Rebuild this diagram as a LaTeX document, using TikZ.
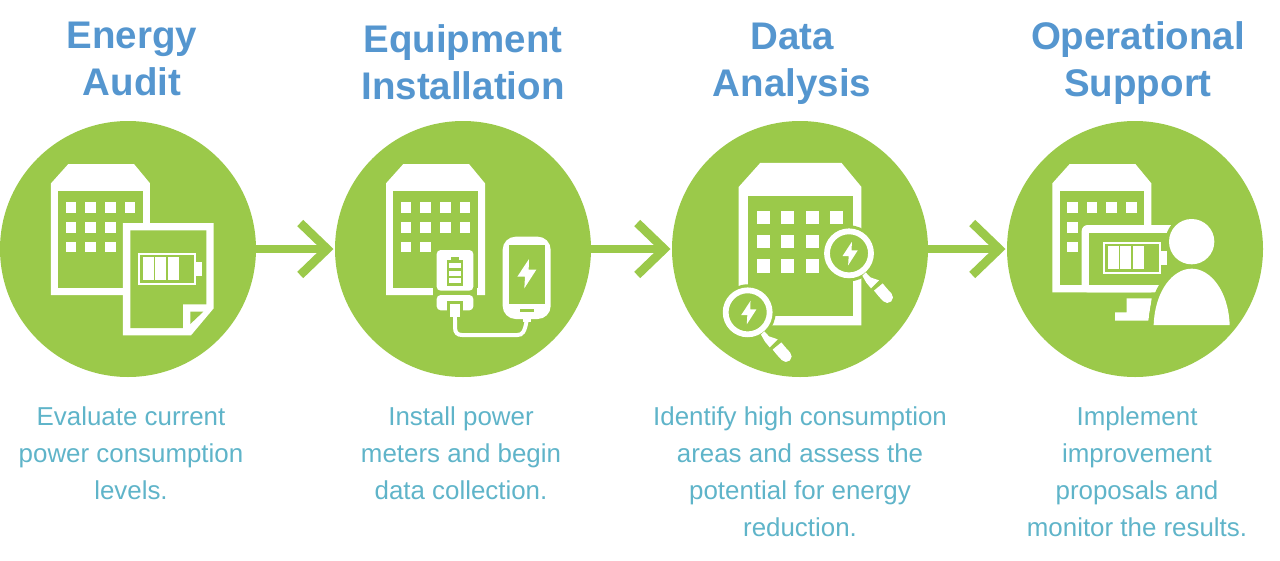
\documentclass[tikz,border=0pt]{standalone}
\usepackage{fontspec}
\setmainfont{Liberation Sans}
\usetikzlibrary{arrows.meta,positioning}
\definecolor{leaf}{HTML}{9BC94A}
\definecolor{headblue}{HTML}{5596CF}
\definecolor{bodyteal}{HTML}{5FB4C9}
\tikzset{
	stepcircle/.style={circle,fill=leaf,inner sep=0pt,outer sep=0pt,minimum size=256pt},
	flow/.style={-{Straight Barb[length=27pt,width=52pt]},leaf,line width=8.7pt,shorten >=1.5pt},
	title/.style={text=headblue,font=\bfseries\fontsize{38.5}{47}\selectfont,align=center,inner sep=0pt},
	caption/.style={text=bodyteal,font=\fontsize{25.9}{37}\selectfont,align=center,inner sep=0pt},
	icon/.style={scale=1/3}
}
% office block, drawn at its place in the first circle
\newcommand{\building}[1]{
	\fill[white] (153,190) -- (205,132) -- (402,132) -- (450,190) -- (450,525) -- (153,525) -- cycle;
	\fill[leaf] (175,212) rectangle (429,503);
	\foreach \cx/\cy in {#1}
		\fill[white] (197+59*\cx,247+59*\cy) rectangle ++(32,32);
}
% battery with three cells, #1 = top left corner
\newcommand{\battery}[1]{
	\begin{scope}[shift={#1}]
		\fill[white] (0,0) rectangle (174,95);
		\fill[white] (174,26) rectangle (190,69);
		\fill[leaf] (6,6) rectangle (168,89);
		\foreach \cx in {13,51,90}
			\fill[white] (\cx,12) rectangle ++(33,70);
	\end{scope}
}
% lightning sign, #1 = middle, #2 = size
\newcommand{\bolt}[2]{
	\fill[white,shift={#1},scale=#2] (7,-43) -- (-28,10) -- (-5,10) -- (-7,45) -- (29,-11) -- (6,-11) -- cycle;
}
% magnifying glass, #1 = middle of the lens
\newcommand{\lens}[1]{
	\begin{scope}[shift={#1}]
		\fill[leaf] (0,0) circle[radius=84];
		\draw[white,line width=5.8pt] (0,0) circle[radius=66];
		\fill[white] (50,57) -- (64,72) -- (90,81) -- (66,105) -- (52,88) -- (40,67) -- cycle;
		\draw[white,line width=11.3pt,line cap=round] (102,118) -- (115,132);
		\draw[white,line width=11.3pt] (88,101) -- (102,118);
		\bolt{(3,0)}{0.8}
	\end{scope}
}
\begin{document}
\begin{tikzpicture}[x=1pt,y=-1pt]
	\useasboundingbox (0,0) rectangle (1280,560);
	% circles
	\node[stepcircle] (audit) at (128,249) {};
	\node[stepcircle] (install) at (463,249) {};
	\node[stepcircle] (analysis) at (800,249) {};
	\node[stepcircle] (support) at (1135,249) {};
	% arrows
	\draw[flow] (audit) -- (install);
	\draw[flow] (install) -- (analysis);
	\draw[flow] (analysis) -- (support);
	% titles
	\node[title,above=25pt of audit,xshift=4pt] (audittitle) {Energy\\Audit};
	\node[title,above=21pt of install] (installtitle) {Equipment\\Installation};
	\node[title,above=16pt of analysis,xshift=-8pt] (analysistitle) {Data\\Analysis};
	\node[title,above=16pt of support,xshift=3pt] (supporttitle) {Operational\\Support};
	% captions
	\node[caption,below=30pt of audit,xshift=3pt] (auditnote) {Evaluate current\\power consumption\\levels.};
	\node[caption,below=30pt of install,xshift=-2pt] (installnote) {Install power\\meters and begin\\data collection.};
	\node[caption,below=30pt of analysis,xshift=0pt] (analysisnote) {Identify high consumption\\areas and assess the\\potential for energy\\reduction.};
	\node[caption,below=30pt of support,xshift=2pt] (supportnote) {Implement\\improvement\\proposals and\\monitor the results.};
	% icon one
	\begin{scope}[shift={(0,120)},icon]
		\building{0/0,1/0,2/0,3/0,0/1,1/1,2/1,0/2,1/2,2/2}
		\fill[white] (369,309) -- (641,309) -- (641,565) -- (573,646) -- (369,646) -- cycle;
		\fill[leaf] (391,331) -- (619,331) -- (619,553) -- (549,553) -- (549,624) -- (391,624) -- cycle;
		\fill[leaf] (571,575) -- (610,575) -- (571,612) -- cycle;
		\battery{(415,399)}
	\end{scope}
	% icon two
	\begin{scope}[shift={(330,120)},icon]
		\begin{scope}[shift={(15,0)}]
			\building{0/0,1/0,2/0,3/0,0/1,1/1,2/1,3/1,0/2,1/2}
		\end{scope}
		\fill[leaf] (310,380) rectangle (440,530);
		\fill[white,rounded corners=4pt] (320,390) rectangle (430,512);
		\fill[white,rounded corners=4pt] (320,525) rectangle (430,571);
		\fill[leaf] (350,420) rectangle (400,497);
		\fill[leaf] (363,410) rectangle (387,420);
		\foreach \cy in {428,452,475}
			\fill[white] (357,\cy) rectangle ++(36,15);
		\fill[leaf] (350,542) rectangle (400,572);
		\fill[white] (360,552) rectangle (390,590);
		\fill[white] (369,590) rectangle (381,606);
		\draw[white,line width=4pt] (375,600) -- (375,622) .. controls (375,638) and (382,645) .. (396,645) -- (562,645) .. controls (578,645) and (584,635) .. (590,602);
		\fill[white,rounded corners=13pt] (518,350) rectangle (662,597);
		\fill[leaf] (537,375) rectangle (645,552);
		\fill[leaf] (570,566) rectangle (613,576);
		\fill[white] (580,595) rectangle (602,606);
		\bolt{(590,460)}{1}
	\end{scope}
	% icon three
	\begin{scope}[shift={(670,120)},icon]
		\begin{scope}[shift={(16.3,-34.7)},scale=1.24]
			\building{0/0,1/0,2/0,3/0,0/1,1/1,2/1,0/2,1/2,2/2}
		\end{scope}
		\lens{(537,400)}
		\lens{(233,577)}
	\end{scope}
	% icon four
	\begin{scope}[shift={(1000,120)},icon]
		\begin{scope}[shift={(4,0)}]
			\fill[white] (153,190) -- (205,132) -- (402,132) -- (450,190) -- (450,517) -- (153,517) -- cycle;
			\fill[leaf] (175,212) rectangle (429,495);
			\foreach \cx/\cy in {0/0,1/0,2/0,3/0,0/1,0/2}
				\fill[white] (197+59*\cx,247+59*\cy) rectangle ++(32,32);
		\end{scope}
		\fill[white,rounded corners=6pt] (245,517) -- (245,315) -- (530,315) -- (530,517) -- cycle;
		\fill[leaf] (268,338) rectangle (530,495);
		\battery{(310,366)}
		\fill[leaf] (575,365) circle[radius=79];
		\fill[white] (380,535) -- (455,535) -- (445,602) -- (345,602) -- (345,577) -- (380,577) -- cycle;
		\fill[leaf] (446,625) -- (446,615) .. controls (448,500) and (510,432) .. (575,432) .. controls (640,432) and (700,500) .. (704,625) -- cycle;
		\fill[white] (575,365) circle[radius=68];
		\fill[white] (461,615) .. controls (465,510) and (520,446) .. (575,446) .. controls (630,446) and (685,510) .. (689,615) -- cycle;
	\end{scope}
\end{tikzpicture}
\end{document}
